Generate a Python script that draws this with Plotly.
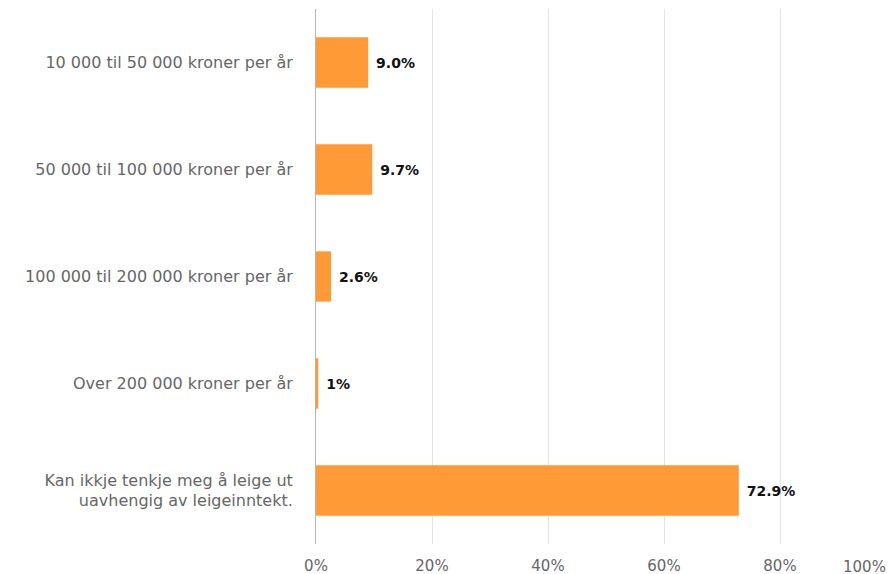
import plotly.graph_objects as go

categories = ["10 000 til 50 000 kroner per år",
              "50 000 til 100 000 kroner per år",
              "100 000 til 200 000 kroner per år",
              "Over 200 000 kroner per år",
              "Kan ikkje tenkje meg å leige ut<br>uavhengig av leigeinntekt."]
values = [9.0, 9.7, 2.6, 0.4, 72.9]
labels = ["9.0%", "9.7%", "2.6%", "1%", "72.9%"]
tick_vals = [0, 20, 40, 60, 80, 100]
tick_text = ["0%", "20%", "40%", "60%", "80%", "100%"]

fig = go.Figure(go.Bar(
    x=values, y=categories, orientation='h',
    marker=dict(color='#ff9a36', line=dict(width=0)),
    text=[" " + t for t in labels], textposition='outside', cliponaxis=False,
    textfont=dict(family='DejaVu Sans', size=14, color='#111111', weight='bold'),
    width=0.47,
))

# last tick label sits flush against the right edge, so draw it as an annotation
fig.add_annotation(text=tick_text[-1], x=tick_vals[-1], xref='x', xanchor='right',
                   xshift=-8, y=0, yref='paper', yanchor='top', yshift=-12, showarrow=False,
                   font=dict(family='DejaVu Sans', size=15, color='#666666'))

# page body has an 8px margin, so the figure is sized/offset to compensate
fig.update_layout(
    template='simple_white',
    width=888, height=566,
    margin=dict(l=308, r=0, t=1, b=30),
    showlegend=False,
    font=dict(family='DejaVu Sans', size=16, color='#666666'),
    xaxis=dict(range=[0, 100], tickvals=tick_vals, ticktext=tick_text[:-1] + [""],
               showgrid=True, gridcolor='#e4e4e4', gridwidth=1,
               showline=False, ticks='', zeroline=False, automargin=False,
               ticklabelstandoff=11,
               tickfont=dict(color='#666666', size=15)),
    yaxis=dict(autorange='reversed', showline=True, linecolor='#b5b5b5', linewidth=1,
               ticks='', ticklabelstandoff=19, automargin=False,
               tickfont=dict(color='#666666', size=16)),
)

fig.write_html("out.html")
